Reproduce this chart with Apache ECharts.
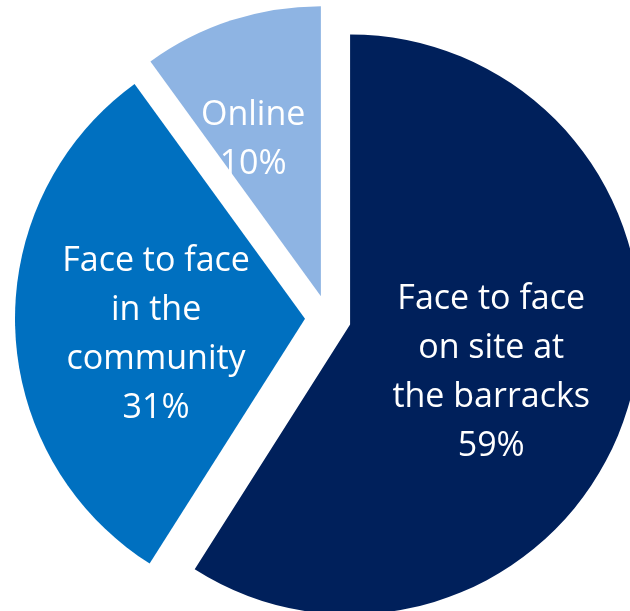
<!DOCTYPE html>
<html>
<head>
<meta charset="utf-8">
<script src="https://cdn.jsdelivr.net/npm/echarts@6/dist/echarts.min.js"></script>
<style>
  html, body { margin: 0; padding: 0; background: #ffffff; }
  #chart { width: 630px; height: 611px; }
</style>
</head>
<body>
<div id="chart"></div>
<script>
const categories = ['Face to face\non site at\nthe barracks', 'Face to face\nin the\ncommunity', 'Online']
const shares = [59, 31, 10]
const colors = ['#00205b', '#0070c0', '#8eb4e3']
// nudge each label from the slice midpoint (dx, dy)
const labelShift = [[-1, 7], [-1, 11], [-22, -16]]

const chart = echarts.init(document.getElementById('chart'))
chart.setOption({
  backgroundColor: '#ffffff',
  animation: false,
  series: [{
    type: 'pie',
    center: [328, 318],
    radius: 290,
    startAngle: 90,
    selectedMode: 'multiple',
    selectedOffset: 23,
    avoidLabelOverlap: false,
    emphasis: { disabled: true },
    label: {
      position: 'inner',
      formatter: '{b}\n{c}%',
      color: '#ffffff',
      fontFamily: 'Open Sans',
      fontSize: 34,
      lineHeight: 49
    },
    labelLine: { show: false },
    labelLayout: params => ({
      dx: labelShift[params.dataIndex][0],
      dy: labelShift[params.dataIndex][1],
      hideOverlap: false
    }),
    data: categories.map((name, i) => ({
      name,
      value: shares[i],
      selected: true,
      itemStyle: { color: colors[i] }
    }))
  }]
})
</script>
</body>
</html>
